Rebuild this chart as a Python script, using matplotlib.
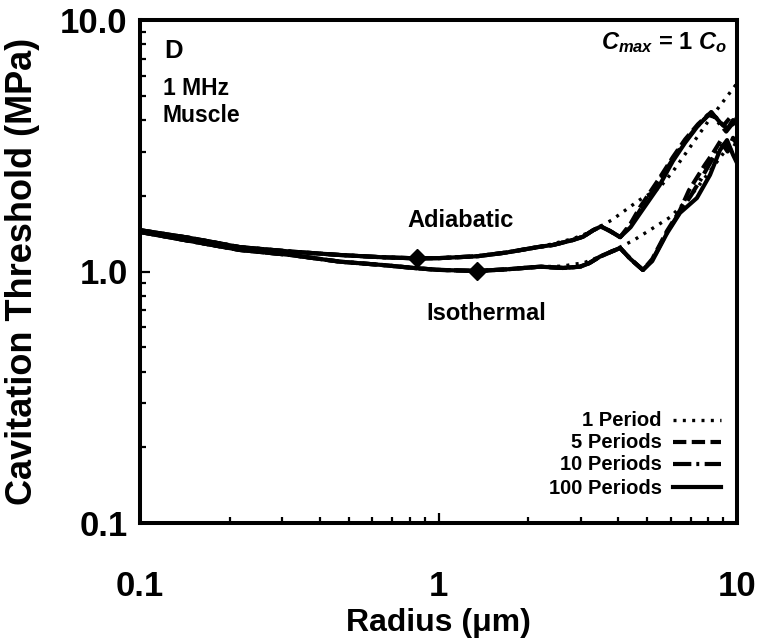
import matplotlib
matplotlib.use('Agg')
import matplotlib.pyplot as plt
from matplotlib.lines import Line2D
from matplotlib.ticker import FixedLocator, FixedFormatter, LogLocator, NullFormatter

plt.rcParams['font.family'] = ['Liberation Sans', 'DejaVu Sans']
plt.rcParams['font.weight'] = 'bold'
plt.rcParams['mathtext.fontset'] = 'custom'
plt.rcParams['mathtext.rm'] = 'Liberation Sans:bold'
plt.rcParams['mathtext.it'] = 'Liberation Sans:italic:bold'
plt.rcParams['mathtext.bf'] = 'Liberation Sans:bold'

# ---------------- data ----------------
# shared part of all four period curves
radius_base = [0.1, 0.147, 0.216, 0.32, 0.468, 0.65, 0.847, 1.0, 1.35, 1.69, 2.19]
adiabatic_base = [1.46, 1.36, 1.25, 1.20, 1.163, 1.139, 1.128, 1.13, 1.15, 1.19, 1.255]
isothermal_base = [1.436, 1.322, 1.218, 1.163, 1.094, 1.061, 1.03, 1.015, 1.005, 1.02, 1.045]

# adiabatic: part shared by 5, 10 and 100 periods
adia_mid_x = [2.42, 2.82, 3.05, 3.3, 3.5, 3.75, 4.06]
adia_mid_y = [1.275, 1.334, 1.375, 1.46, 1.51, 1.45, 1.37]
# adiabatic tails
adia_1p_x = [2.42, 2.82, 3.2, 3.8, 4.7, 5.5, 6.1, 7.0, 8.0, 9.0, 10.0]
adia_1p_y = [1.29, 1.35, 1.43, 1.60, 1.92, 2.15, 2.50, 3.15, 3.95, 4.75, 5.6]
adia_5p_x = [4.4, 4.73, 5.5, 6.1, 6.7, 7.4, 8.0, 8.5, 9.0, 9.5, 10.0]
adia_5p_y = [1.55, 1.80, 2.35, 2.85, 3.35, 3.85, 4.20, 4.10, 3.80, 4.10, 4.00]
adia_10p_x = [4.4, 4.73, 5.5, 6.1, 6.7, 7.4, 8.2, 8.7, 9.2, 9.7, 10.0]
adia_10p_y = [1.52, 1.75, 2.30, 2.80, 3.30, 3.80, 4.30, 3.90, 3.60, 3.90, 3.70]
adia_100p_x = [4.4, 4.73, 5.5, 6.1, 6.7, 7.4, 8.2, 8.8, 9.3, 9.7, 10.0]
adia_100p_y = [1.50, 1.70, 2.20, 2.75, 3.25, 3.80, 4.30, 3.90, 3.70, 4.00, 3.85]

# isothermal: part shared by 5, 10 and 100 periods
iso_mid_x = [2.61, 2.98, 3.2, 3.47, 3.8, 4.06, 4.4, 4.84]
iso_mid_y = [1.033, 1.045, 1.08, 1.145, 1.20, 1.24, 1.12, 1.014]
# isothermal tails
iso_1p_x = [2.6, 2.85, 3.05, 3.5, 4.0, 4.5, 5.1, 6.0, 7.0, 8.0, 9.0, 10.0]
iso_1p_y = [1.05, 1.07, 1.08, 1.15, 1.24, 1.33, 1.46, 1.65, 2.00, 2.45, 2.95, 3.5]
iso_5p_x = [5.2, 5.83, 6.44, 6.9, 7.4, 7.8, 8.3, 8.8, 9.3, 9.7, 10.0]
iso_5p_y = [1.12, 1.45, 1.75, 2.10, 2.40, 2.65, 2.95, 3.30, 3.00, 3.40, 3.20]
iso_10p_x = [5.2, 5.83, 6.44, 7.0, 7.6, 8.2, 8.7, 9.2, 9.6, 10.0]
iso_10p_y = [1.11, 1.43, 1.73, 2.00, 2.35, 2.75, 3.10, 3.25, 3.00, 3.30]
iso_100p_x = [5.2, 5.83, 6.44, 7.34, 8.12, 8.77, 9.26, 9.7, 10.0]
iso_100p_y = [1.10, 1.42, 1.71, 1.96, 2.42, 3.04, 3.33, 2.91, 2.70]

# diamond markers
marker_x = [0.85, 1.35]
marker_y = [1.128, 1.005]

legend_labels = ['1 Period', '5 Periods', '10 Periods', '100 Periods']
xtick_vals = [0.1, 1, 10]
xtick_labels = ['0.1', '1', '10']
ytick_vals = [0.1, 1, 10]
ytick_labels = ['0.1', '1.0', '10.0']

# ---------------- styles ----------------
LW = 3.0
styles = {
    '1 Period': dict(ls=(0, (0.9, 1.9)), lw=2.4),
    '5 Periods': dict(ls=(0, (3.2, 1.3)), lw=LW),
    '10 Periods': dict(ls=(0, (4.4, 1.2, 0.7, 1.3)), lw=LW),
    '100 Periods': dict(ls='-', lw=LW),
}

fig = plt.figure(figsize=(7.62, 6.44), dpi=100)
ax = fig.add_axes([140 / 762, 1 - 523 / 644, 597 / 762, 503 / 644])
ax.set_xscale('log')
ax.set_yscale('log')


def build(base_x, base_y, mid_x, mid_y, tail_x, tail_y):
    return list(base_x) + list(mid_x) + list(tail_x), list(base_y) + list(mid_y) + list(tail_y)


curves = [
    ('1 Period', radius_base + adia_1p_x, adiabatic_base + adia_1p_y),
    ('1 Period', radius_base + iso_1p_x, isothermal_base + iso_1p_y),
    ('5 Periods',) + tuple(build(radius_base, adiabatic_base, adia_mid_x, adia_mid_y, adia_5p_x, adia_5p_y)),
    ('5 Periods',) + tuple(build(radius_base, isothermal_base, iso_mid_x, iso_mid_y, iso_5p_x, iso_5p_y)),
    ('10 Periods',) + tuple(build(radius_base, adiabatic_base, adia_mid_x, adia_mid_y, adia_10p_x, adia_10p_y)),
    ('10 Periods',) + tuple(build(radius_base, isothermal_base, iso_mid_x, iso_mid_y, iso_10p_x, iso_10p_y)),
    ('100 Periods',) + tuple(build(radius_base, adiabatic_base, adia_mid_x, adia_mid_y, adia_100p_x, adia_100p_y)),
    ('100 Periods',) + tuple(build(radius_base, isothermal_base, iso_mid_x, iso_mid_y, iso_100p_x, iso_100p_y)),
]
for name, xs, ys in curves:
    st = styles[name]
    ax.plot(xs, ys, color='black', linestyle=st['ls'], linewidth=st['lw'],
            solid_joinstyle='round', clip_on=True)

ax.plot(marker_x, marker_y, 'D', color='black', ms=9.5, mew=1, zorder=5)

ax.set_xlim(0.1, 10)
ax.set_ylim(0.1, 10)

# ticks
ax.xaxis.set_major_locator(FixedLocator(xtick_vals))
ax.xaxis.set_major_formatter(FixedFormatter(xtick_labels))
ax.yaxis.set_major_locator(FixedLocator(ytick_vals))
ax.yaxis.set_major_formatter(FixedFormatter(ytick_labels))
ax.xaxis.set_minor_locator(LogLocator(base=10, subs=range(2, 10)))
ax.yaxis.set_minor_locator(LogLocator(base=10, subs=range(2, 10)))
ax.xaxis.set_minor_formatter(NullFormatter())
ax.yaxis.set_minor_formatter(NullFormatter())
ax.tick_params(which='both', direction='in', top=False, right=False, width=1.6)
ax.tick_params(which='major', length=7)
ax.tick_params(which='minor', length=4)
ax.tick_params(axis='x', which='major', pad=34, labelsize=25)
ax.tick_params(axis='y', which='major', pad=9, labelsize=25)
for lab in ax.get_xticklabels() + ax.get_yticklabels():
    lab.set_fontweight('bold')
for sp in ax.spines.values():
    sp.set_linewidth(2.9)

ax.set_xlabel('Radius (μm)', fontsize=23, fontweight='bold')
ax.set_ylabel('Cavitation Threshold (MPa)', fontsize=26, fontweight='bold')
ax.xaxis.set_label_coords(0.5, (523 - 623) / 503)
ax.xaxis.label.set_va('center')
ax.yaxis.set_label_coords((23 - 140) / 597, 0.5)
ax.yaxis.label.set_va('center')

# annotations
T = ax.transAxes
ax.text(0.040, (523 - 58) / 503, 'D', transform=T, fontsize=18.5, fontweight='bold', va='baseline')
ax.text(0.0385, (523 - 95) / 503, '1 MHz', transform=T, fontsize=16.5, fontweight='bold', va='baseline')
ax.text(0.0385, (523 - 122) / 503, 'Muscle', transform=T, fontsize=16.5, fontweight='bold', va='baseline')
ax.text((727 - 140) / 597, (523 - 49) / 503, r'$C_{max}$ = 1 $C_{o}$', transform=T,
        fontsize=17, fontweight='bold', ha='right', va='baseline')
ax.text((460.5 - 140) / 597, (523 - 227) / 503, 'Adiabatic', transform=T, fontsize=17,
        fontweight='bold', ha='center', va='baseline')
ax.text((486 - 140) / 597, (523 - 320) / 503, 'Isothermal', transform=T, fontsize=17,
        fontweight='bold', ha='center', va='baseline')

# manual legend
row_py = [421, 443, 465, 488]
for lab, py in zip(legend_labels, row_py):
    yy = (523 - py) / 503
    ax.text((662 - 140) / 597, yy, lab, transform=T, fontsize=14.5, fontweight='bold',
            ha='right', va='center')
    st = styles[lab]
    ax.add_line(Line2D([(673 - 140) / 597, (721 - 140) / 597], [yy + 0.002, yy + 0.002],
                       transform=T, color='black', linestyle=st['ls'], linewidth=st['lw']))

fig.savefig('out.png', dpi=100)
